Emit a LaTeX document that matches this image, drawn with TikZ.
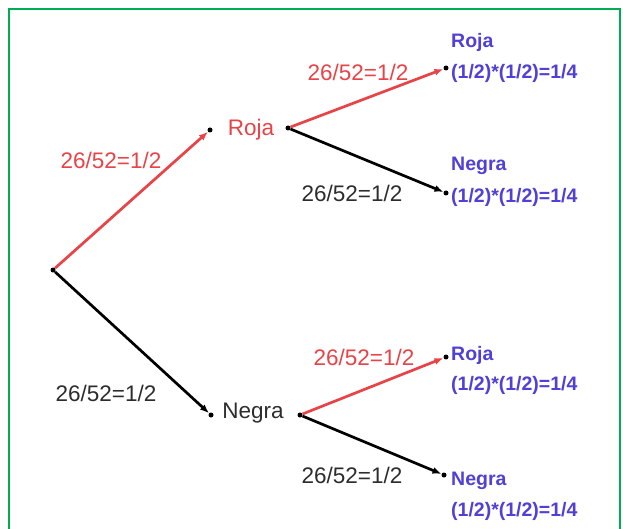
\documentclass[tikz,border=0pt]{standalone}
\usepackage{fontspec}
\setmainfont{Liberation Sans}
\usetikzlibrary{arrows.meta}
\definecolor{lred}{RGB}{232,68,72}
\definecolor{lblue}{RGB}{80,64,215}
\definecolor{dtext}{RGB}{45,45,45}
\definecolor{frame}{RGB}{0,172,80}
\tikzset{
  dot/.style={circle,fill=black,inner sep=0pt,minimum size=5pt},
  redarr/.style={draw=lred,line width=2.7pt,-{Latex[length=9pt,width=7pt]}},
  blkarr/.style={draw=black,line width=2.7pt,-{Latex[length=9pt,width=7pt]}},
  redlab/.style={text=lred,font=\fontsize{22.5}{26}\selectfont,inner sep=0pt},
  blklab/.style={text=dtext,font=\fontsize{22.5}{26}\selectfont,inner sep=0pt},
  bluelab/.style={text=lblue,font=\bfseries\fontsize{19.5}{24}\selectfont,inner sep=0pt,anchor=west}
}
\begin{document}
\begin{tikzpicture}[x=1pt,y=-1pt]
\useasboundingbox (0,0) rectangle (623,529);
\fill[white] (0,0) rectangle (623,529);
\draw[frame,line width=2.5pt] (9,9) rectangle (620,545);
% dots
\node[dot] (root) at (53,270) {};
\node[dot] (rA) at (210,130) {};
\node[dot] (rB) at (288,128) {};
\node[dot] (nA) at (211,415) {};
\node[dot] (nB) at (300,415) {};
\node[dot] (e1) at (446,68) {};
\node[dot] (e2) at (446,193) {};
\node[dot] (e3) at (446,357) {};
\node[dot] (e4) at (444,475) {};
% connectors
\draw[redarr] (root) -- (rA);
\draw[blkarr] (root) -- (nA);
\draw[redarr] (rB) -- (e1);
\draw[blkarr] (rB) -- (e2);
\draw[redarr] (nB) -- (e3);
\draw[blkarr] (nB) -- (e4);
% node labels
\node[redlab] (lroja) at (251,130) {Roja};
\node[blklab] (lnegra) at (253,413) {Negra};
% edge labels
\node[redlab] (p1) at (111,160) {26/52=1/2};
\node[blklab] (p2) at (106,393) {26/52=1/2};
\node[redlab] (p3) at (358,72) {26/52=1/2};
\node[blklab] (p4) at (352,193) {26/52=1/2};
\node[redlab] (p5) at (364,357) {26/52=1/2};
\node[blklab] (p6) at (352,475) {26/52=1/2};
% outcome labels
\node[bluelab] (o1a) at (451,42) {Roja};
\node[bluelab] (o1b) at (451,73) {(1/2)*(1/2)=1/4};
\node[bluelab] (o2a) at (451,166) {Negra};
\node[bluelab] (o2b) at (451,197) {(1/2)*(1/2)=1/4};
\node[bluelab] (o3a) at (451,355) {Roja};
\node[bluelab] (o3b) at (451,385) {(1/2)*(1/2)=1/4};
\node[bluelab] (o4a) at (451,481) {Negra};
\node[bluelab] (o4b) at (451,511) {(1/2)*(1/2)=1/4};
\end{tikzpicture}
\end{document}
